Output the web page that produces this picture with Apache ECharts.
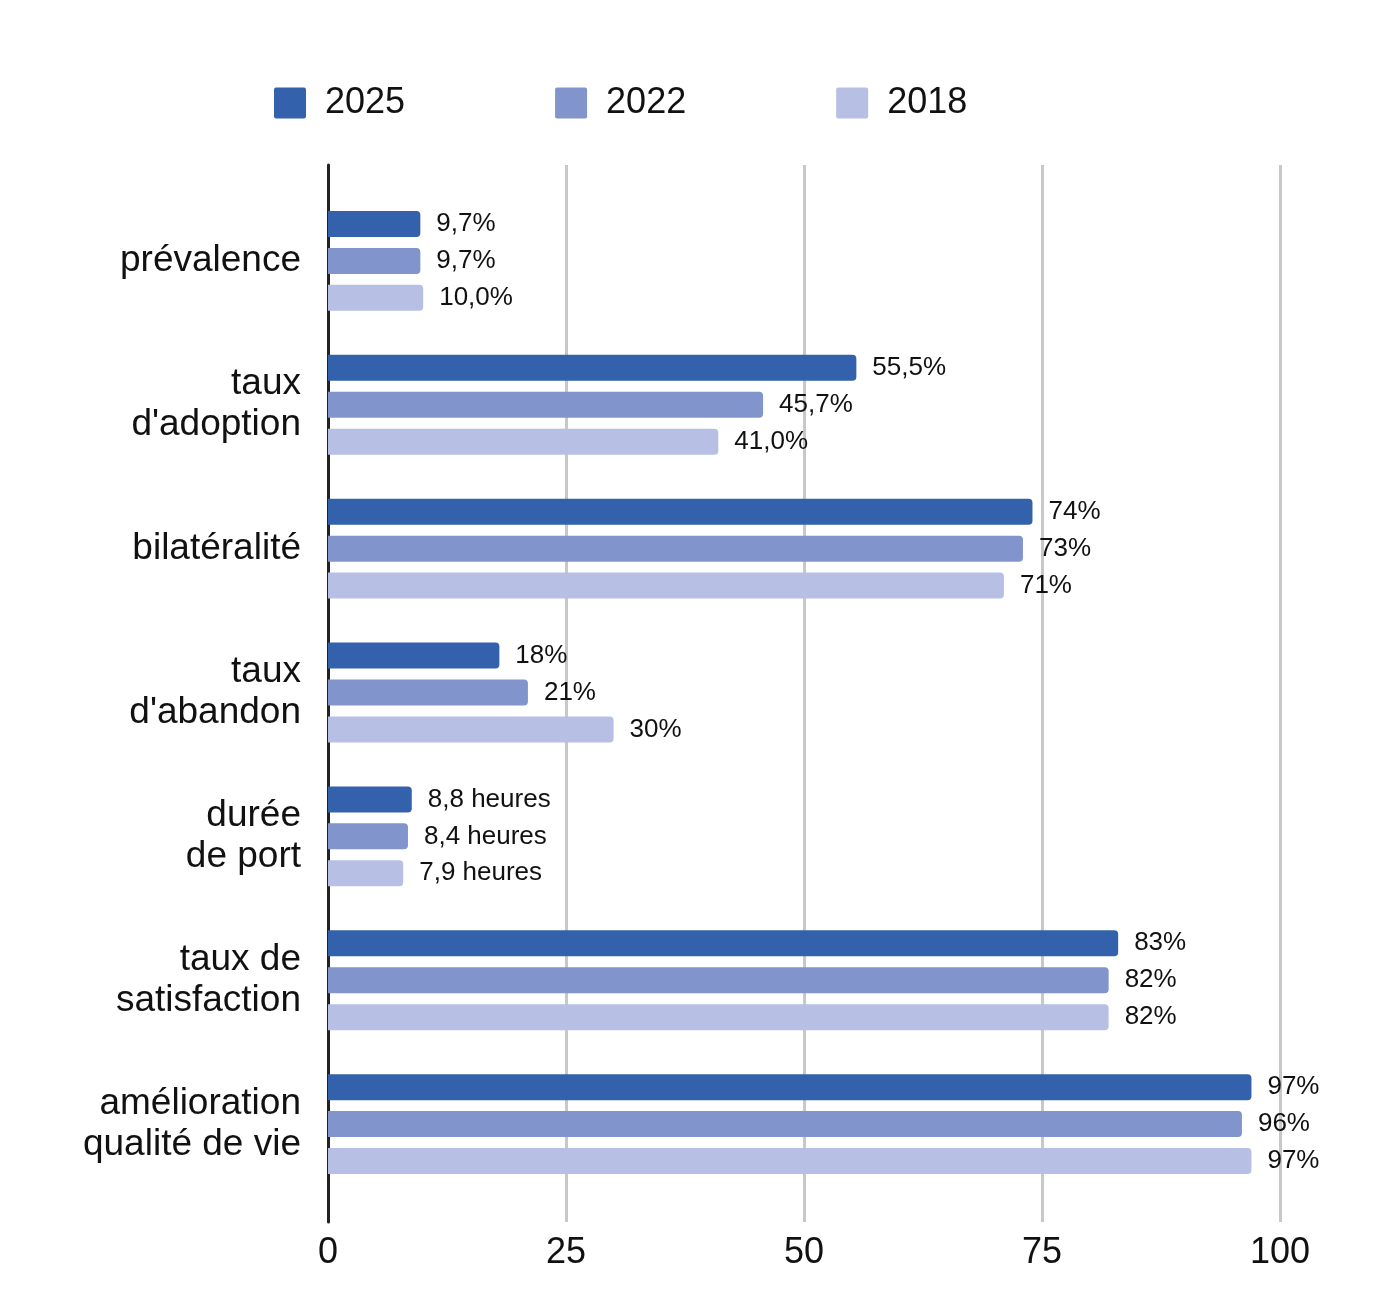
<!DOCTYPE html>
<html><head><meta charset="utf-8">
<script src="https://cdn.jsdelivr.net/npm/echarts@6/dist/echarts.min.js"></script>
<style>html,body{margin:0;padding:0;background:#fff}#c{width:1400px;height:1315px}</style>
</head><body><div id="c"></div>
<script>
const categories = ['prévalence', "taux\nd'adoption", 'bilatéralité', "taux\nd'abandon", 'durée\nde port', 'taux de\nsatisfaction', 'amélioration\nqualité de vie'];
const years = ['2025', '2022', '2018'];
const values2025 = [9.7, 55.5, 74, 18, 8.8, 83, 97];
const values2022 = [9.7, 45.7, 73, 21, 8.4, 82, 96];
const values2018 = [10.0, 41.0, 71, 30, 7.9, 82, 97];
const labels2025 = ['9,7%', '55,5%', '74%', '18%', '8,8 heures', '83%', '97%'];
const labels2022 = ['9,7%', '45,7%', '73%', '21%', '8,4 heures', '82%', '96%'];
const labels2018 = ['10,0%', '41,0%', '71%', '30%', '7,9 heures', '82%', '97%'];
const xTicks = [0, 25, 50, 75, 100];

const colors = ['#3461AB', '#8195CC', '#B7C0E4'];
const font = 'Liberation Sans, Arial, sans-serif';
const allValues = [values2025, values2022, values2018];
const allLabels = [labels2025, labels2022, labels2018];

const chart = echarts.init(document.getElementById('c'));
chart.setOption({
  animation: false,
  backgroundColor: '#fff',
  textStyle: { fontFamily: font },
  legend: {
    top: 80, left: 269, itemWidth: 32, itemHeight: 31, itemGap: 150,
    icon: 'path://M2,0 L30,0 Q32,0 32,2 L32,29 Q32,31 30,31 L2,31 Q0,31 0,29 L0,2 Q0,0 2,0 Z',
    textStyle: { fontSize: 36, color: '#111', fontFamily: font, padding: [0, 0, 0, 14] },
    data: years
  },
  grid: [
    { left: 328, right: 120, top: 189, height: 1007, containLabel: false },
    { left: 328, right: 120, top: 165, height: 1057, containLabel: false }
  ],
  xAxis: [
    { gridIndex: 0, type: 'value', min: 0, max: 100, show: false },
    { gridIndex: 1, type: 'value', min: 0, max: 100, interval: 25,
      axisLine: { show: false }, axisTick: { show: false },
      splitLine: { show: true, lineStyle: { color: '#C8C8C8', width: 3 } },
      axisLabel: { fontSize: 36, color: '#111', margin: 13, fontFamily: font,
        formatter: v => xTicks.includes(v) ? String(v) : '' } }
  ],
  yAxis: [
    { gridIndex: 0, type: 'category', data: categories, inverse: true,
      axisLine: { show: false }, axisTick: { show: false },
      axisLabel: { fontSize: 37, color: '#111', margin: 27, lineHeight: 41, align: 'right', fontFamily: font } },
    { gridIndex: 1, type: 'category', data: [''],
      axisLine: { show: true, lineStyle: { color: '#222', width: 3 } },
      axisTick: { show: false }, axisLabel: { show: false } }
  ],
  series: years.map((y, i) => ({
    name: y, type: 'bar', xAxisIndex: 0, yAxisIndex: 0,
    data: allValues[i], barWidth: 26, barGap: '42%',
    itemStyle: { color: colors[i], borderRadius: [0, 4, 4, 0] },
    label: { show: true, position: 'right', distance: 16, fontSize: 26, color: '#111', fontFamily: font,
      formatter: p => allLabels[i][p.dataIndex] },
    z: 3
  }))
});
</script></body></html>
